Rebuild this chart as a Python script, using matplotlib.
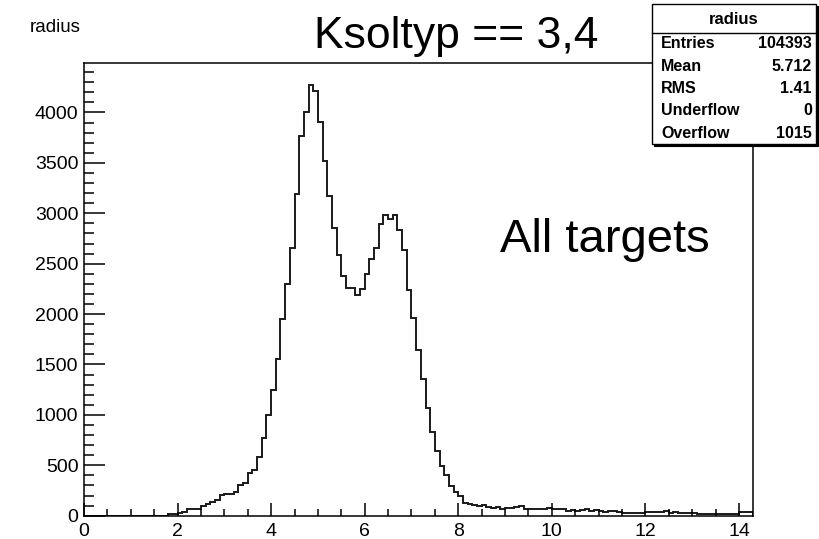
import numpy as np
import matplotlib.pyplot as plt
from matplotlib.patches import Rectangle
from matplotlib.ticker import MultipleLocator

plt.rcParams['font.family'] = ['Liberation Sans', 'DejaVu Sans']

# radius histogram, 0.1 wide bins from 0 to 14.3
bin_width = 0.1
n_bins = 143
counts = [0] * 18 + [
    14, 14, 24, 37, 70, 70, 70, 96, 113, 139,            # 1.8 - 2.7
    156, 202, 218, 218, 238, 308, 321, 427, 453, 585,   # 2.8 - 3.7
    772, 1000, 1250, 1558, 1956, 2299, 2656, 3195, 3764, 4005,  # 3.8 - 4.7
    4277, 4210, 3903, 3519, 3175, 2851, 2586, 2381, 2262, 2262,  # 4.8 - 5.7
    2192, 2252, 2395, 2550, 2659, 2895, 2980, 2943, 2980, 2834,  # 5.8 - 6.7
    2636, 2242, 1958, 1644, 1356, 1071, 833, 643, 495, 405,      # 6.8 - 7.7
    290, 233, 195, 129, 116, 103, 96, 103, 89, 76,               # 7.8 - 8.7
    83, 69, 76, 76, 83, 96, 66, 66, 66, 69,                      # 8.8 - 9.7
    69, 76, 66, 66, 66, 50, 56, 50, 56, 63,                      # 9.8 - 10.7
    50, 56, 45, 40, 50, 50, 38, 25, 25, 25,                      # 10.8 - 11.7
    25, 25, 33, 36, 36, 38, 48, 30, 36, 26,                      # 11.8 - 12.7
    24, 25, 30, 18, 18, 18, 18, 18, 18, 18,                      # 12.8 - 13.7
    18, 18, 32, 33, 33,                                          # 13.8 - 14.2
]
edges = np.arange(n_bins + 1) * bin_width

stat_names = ['Entries', 'Mean', 'RMS', 'Underflow', 'Overflow']
stat_values = ['104393', '5.712', '1.41', '0', '1015']

W, H = 820, 539
fig = plt.figure(figsize=(W / 100, H / 100), dpi=100)


def fx(x):
    return x / W


def fy(y):
    return 1 - y / H


ax = fig.add_axes([fx(84), fy(515.7), fx(753) - fx(84), fy(63) - fy(515.7)])
ax.stairs(counts, edges, color='#1a1a1a', lw=1.4)
ax.set_xlim(0, edges[-1])
ax.set_ylim(0, max(counts) * 1.05)

ax.xaxis.set_major_locator(MultipleLocator(2))
ax.xaxis.set_minor_locator(MultipleLocator(0.5))
ax.yaxis.set_major_locator(MultipleLocator(500))
ax.yaxis.set_minor_locator(MultipleLocator(100))
ax.tick_params(axis='both', which='both', direction='in', top=False, right=False,
               labelsize=14, width=1.1, color='black')
ax.tick_params(axis='y', which='major', length=15, pad=4)
ax.tick_params(axis='y', which='minor', length=7.5)
ax.tick_params(axis='x', which='major', length=9.5, pad=5)
ax.tick_params(axis='x', which='minor', length=5)
for s in ax.spines.values():
    s.set_linewidth(1.1)

fig.text(fx(30), fy(28), 'radius', fontsize=13.5, va='center', ha='left')
fig.text(fx(456), fy(36), 'Ksoltyp == 3,4', fontsize=32, va='center', ha='center')
fig.text(fx(500), fy(252), 'All targets', fontsize=34, ha='left', va='baseline')

# stats box with shadow
bx0, bx1, by0, by1 = 652, 816, 4, 144
fig.patches.append(Rectangle((fx(bx0 + 2), fy(by1 + 2)), fx(bx1) - fx(bx0),
                             fy(by0) - fy(by1), transform=fig.transFigure,
                             facecolor='black', edgecolor='black', lw=0.8))
fig.patches.append(Rectangle((fx(bx0), fy(by1)), fx(bx1) - fx(bx0),
                             fy(by0) - fy(by1), transform=fig.transFigure,
                             facecolor='white', edgecolor='black', lw=1.0))
fig.add_artist(plt.Line2D([fx(bx0), fx(bx1)], [fy(33), fy(33)],
                          transform=fig.transFigure, color='black', lw=1.0))
fig.text(fx((bx0 + bx1) / 2), fy(20), 'radius', fontsize=12, fontweight='bold',
         ha='center', va='center')
for i, (name, val) in enumerate(zip(stat_names, stat_values)):
    y = 44 + i * 22.3
    fig.text(fx(661), fy(y), name, fontsize=11.5, fontweight='bold',
             ha='left', va='center')
    fig.text(fx(812), fy(y), val, fontsize=11.5, fontweight='bold',
             ha='right', va='center')

fig.savefig('out.png', dpi=100)
